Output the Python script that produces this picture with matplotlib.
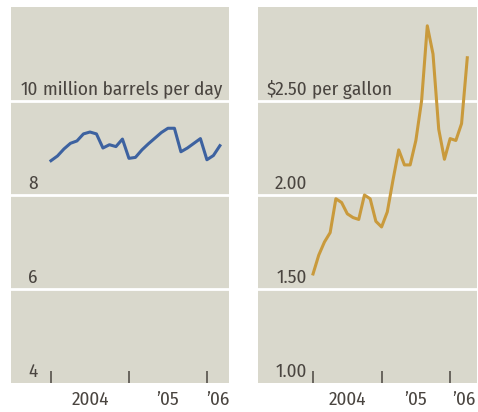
import matplotlib
matplotlib.use("Agg")
import matplotlib.pyplot as plt
from matplotlib import font_manager

# ---- data ----
oil_months = list(range(27))  # Jan 2004 .. Mar 2006
oil_values = [8.73, 8.83, 8.98, 9.10, 9.15, 9.30, 9.34, 9.30, 9.00, 9.07,
              9.03, 9.19, 8.78, 8.80, 8.96, 9.09, 9.21, 9.33, 9.42, 9.42,
              8.92, 9.00, 9.10, 9.20, 8.75, 8.84, 9.05]
gas_months = list(range(28))  # Jan 2004 .. Apr 2006
gas_values = [1.58, 1.68, 1.75, 1.80, 1.98, 1.96, 1.90, 1.88, 1.87, 2.00,
              1.98, 1.86, 1.83, 1.91, 2.08, 2.24, 2.16, 2.16, 2.29, 2.50,
              2.90, 2.75, 2.35, 2.19, 2.30, 2.29, 2.38, 2.73]
year_tick_months = [0, 12, 24]
year_labels = ["2004", "\u201905", "\u201906"]
oil_ticks = [4, 6, 8, 10]
oil_tick_labels = ["4", "6", "8", "10"]
gas_ticks = [1.0, 1.5, 2.0, 2.5]
gas_tick_labels = ["1.00", "1.50", "2.00", "$2.50"]

names = {f.name for f in font_manager.fontManager.ttflist}
candidates = ["Fira Sans Condensed", "Roboto Condensed", "Archivo Narrow",
              "PT Sans Narrow", "Liberation Sans Narrow", "Encode Sans Condensed",
              "Asap Condensed", "IBM Plex Sans Condensed", "Barlow Semi Condensed",
              "Open Sans Condensed", "DejaVu Sans"]
fam = next(c for c in candidates if c in names or c == "DejaVu Sans")
plt.rcParams["font.family"] = [fam, "DejaVu Sans"]

W, H = 478, 412
fig = plt.figure(figsize=(W / 100, H / 100), dpi=100)
fig.patch.set_facecolor("white")

# scale font so that the unit label has the reference width (~202 px)
renderer = fig.canvas.get_renderer()
probe = fig.text(0, 0, "10 million barrels per day", fontsize=13)
w = probe.get_window_extent(renderer).width
probe.remove()
FS = 13 * 202.0 / w
FS = max(9.0, min(FS, 15.0))

BG = "#d9d8cc"
TXT = "#4a4540"


def make_panel(left_px, width_px, ylim, xlim):
    ax = fig.add_axes([left_px / W, 29 / H, width_px / W, 376 / H])
    ax.set_facecolor(BG)
    for s in ax.spines.values():
        s.set_visible(False)
    ax.set_ylim(*ylim)
    ax.set_xlim(*xlim)
    ax.set_yticks([])
    ax.set_xticks(year_tick_months, minor=True)
    ax.tick_params(axis="x", which="minor", direction="in", length=8.5,
                   width=1.1, color=TXT)
    return ax


# left panel
axL = make_panel(11, 218, (4, 12), (-6.15, 27.4))
for v in oil_ticks[1:]:
    axL.axhline(v, color="white", lw=2.0, zorder=1)
axL.plot(oil_months, oil_values, color="#3d62a0", lw=2.2, zorder=3,
         solid_joinstyle="round")
axL.set_xticks([6, 18, 25.7])
axL.set_xticklabels(year_labels)
axL.tick_params(axis="x", which="major", length=0, pad=6, labelsize=FS,
                labelcolor=TXT)
for v, lab in zip(oil_ticks, oil_tick_labels):
    axL.annotate(lab, xy=(-2.0, v), xytext=(0, 4.5), textcoords="offset points",
                 ha="right", va="baseline", fontsize=FS, color=TXT)
axL.annotate("million barrels per day", xy=(-1.25, 10), xytext=(0, 4.5),
             textcoords="offset points", ha="left", va="baseline",
             fontsize=FS, color=TXT)

# right panel
axR = make_panel(258, 219, (1, 3), (-9.63, 28.7))
for v in gas_ticks[1:]:
    axR.axhline(v, color="white", lw=2.0, zorder=1)
axR.plot(gas_months, gas_values, color="#c99a3c", lw=2.2, zorder=3,
         solid_joinstyle="round")
axR.set_xticks([6, 18, 26.4])
axR.set_xticklabels(year_labels)
axR.tick_params(axis="x", which="major", length=0, pad=6, labelsize=FS,
                labelcolor=TXT)
for v, lab in zip(gas_ticks, gas_tick_labels):
    axR.annotate(lab, xy=(-1.05, v), xytext=(0, 4.5), textcoords="offset points",
                 ha="right", va="baseline", fontsize=FS, color=TXT)
axR.annotate("per gallon", xy=(-0.1, 2.5), xytext=(0, 4.5),
             textcoords="offset points", ha="left", va="baseline",
             fontsize=FS, color=TXT)

fig.savefig("out.png", dpi=100, facecolor="white")
